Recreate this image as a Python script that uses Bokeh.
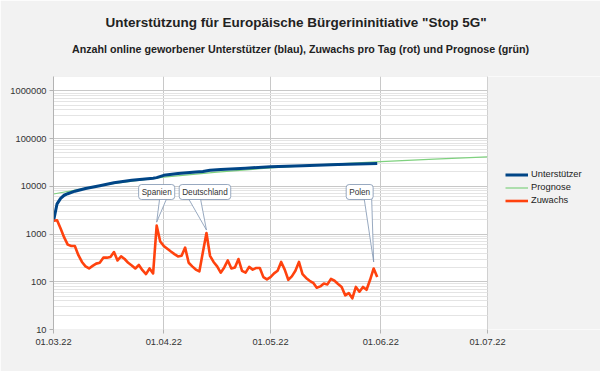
import math
import pandas as pd
from bokeh.plotting import figure
from bokeh.models import (Range1d, FixedTicker, NumeralTickFormatter, DatetimeTickFormatter,
                          Legend, LegendItem, Label, Title, BoxAnnotation)
from bokeh.embed import file_html
from bokeh.resources import INLINE

# ---------------- data ----------------
unterstuetzer_dates = ["2022-03-01", "2022-03-02", "2022-03-03", "2022-03-04", "2022-03-05",
                       "2022-03-07", "2022-03-10", "2022-03-14", "2022-03-18", "2022-03-23",
                       "2022-03-29", "2022-03-30", "2022-04-01", "2022-04-05", "2022-04-10",
                       "2022-04-12", "2022-04-14", "2022-04-17", "2022-04-24", "2022-05-01",
                       "2022-05-10", "2022-05-20", "2022-05-31"]
unterstuetzer = [1850, 4300, 5600, 6500, 7000,
                 7900, 9000, 10300, 11900, 13400,
                 14800, 15200, 17000, 18600, 19900,
                 20500, 21800, 22600, 24000, 25700,
                 27000, 28500, 30000]

prognose_dates = ["2022-03-01", "2022-03-16", "2022-04-01", "2022-04-16", "2022-05-01",
                  "2022-05-16", "2022-06-01", "2022-06-16", "2022-07-01"]
prognose = [6900, 11000, 15600, 19900, 24200, 28500, 33000, 37200, 41500]

zuwachs_start = "2022-03-01"
zuwachs = [1900, 1950, 1300, 850, 600, 560, 560, 360, 260, 210,
           190, 215, 240, 250, 320, 320, 330, 420, 280, 340,
           300, 250, 220, 190, 225, 175, 145, 190, 150, 1500,
           700, 560, 490, 430, 380, 340, 350, 520, 250, 210,
           180, 165, 420, 1050, 350, 260, 210, 155, 200, 280,
           190, 200, 300, 170, 155, 205, 180, 195, 195, 125,
           112, 125, 150, 170, 260, 180, 110, 130, 170, 260,
           145, 120, 105, 95, 75, 80, 92, 88, 115, 105,
           90, 78, 52, 58, 45, 78, 62, 78, 68, 110,
           190, 126]

x_tick_dates = ["2022-03-01", "2022-04-01", "2022-05-01", "2022-06-01", "2022-07-01"]
y_ticks = [10, 100, 1000, 10000, 100000, 1000000]

callout_names = ["Spanien", "Deutschland", "Polen"]
callout_dates = ["2022-03-30", "2022-04-13", "2022-05-30"]

title_text = "Unterstützung für Europäische Bürgerininitiative \"Stop 5G\""
subtitle_text = "Anzahl online geworbener Unterstützer (blau), Zuwachs pro Tag (rot) und Prognose (grün)"

# ---------------- layout constants ----------------
W, H = 600, 371
BL, BT, BB = 53, 76, 42
PLOT_W = 434                 # width of the white plot area
FW, FH = W - BL, H - BT - BB  # frame reaches the right edge (legend lives there)
Y0, Y1 = 10, 2e6
FONT = "Liberation Sans"
TXT = "#333333"
GRID = "#c8c8c8"
PAGE = "#f2f2f2"


def ms(d):
    return pd.Timestamp(d).value / 1e6


t0, t1 = ms(x_tick_dates[0]), ms(x_tick_dates[-1])
ms_per_px = (t1 - t0) / PLOT_W
x_end = t0 + FW * ms_per_px

p = figure(width=W, height=H, x_axis_type="datetime", y_axis_type="log",
           x_range=Range1d(t0, x_end), y_range=Range1d(Y0, Y1),
           output_backend="svg", toolbar_location=None, title=None,
           min_border_left=BL, min_border_right=0, min_border_top=BT, min_border_bottom=BB)
p.border_fill_color = PAGE
p.background_fill_color = "white"
p.outline_line_color = None

# axes
minor = [k * 10 ** e for e in range(1, 7) for k in range(2, 10)]
p.yaxis.ticker = FixedTicker(ticks=y_ticks, minor_ticks=minor)
p.yaxis.formatter = NumeralTickFormatter(format="0")
p.xaxis.ticker = FixedTicker(ticks=[ms(d) for d in x_tick_dates])
fmt = "%d.%m.%y"
p.xaxis.formatter = DatetimeTickFormatter(microseconds=fmt, milliseconds=fmt, seconds=fmt,
                                          minsec=fmt, minutes=fmt, hourmin=fmt, hours=fmt,
                                          days=fmt, months=fmt, years=fmt)
for ax in (p.xaxis, p.yaxis):
    ax.axis_line_color = "#b3b3b3"
    ax.major_tick_line_color = "#b3b3b3"
    ax.major_tick_out = 4
    ax.major_tick_in = 0
    ax.minor_tick_out = 0
    ax.minor_tick_in = 0
    ax.major_label_text_font = FONT
    ax.major_label_text_font_size = "9.3px"
    ax.major_label_text_color = TXT
p.xaxis.axis_line_color = None
p.yaxis.major_label_standoff = 3
p.xaxis.major_label_standoff = 5

p.ygrid.grid_line_color = GRID
p.ygrid.minor_grid_line_color = "#e4e4e4"
p.xgrid.grid_line_color = GRID

# series
ux = pd.to_datetime(unterstuetzer_dates)
px_ = pd.to_datetime(prognose_dates)
zx = pd.date_range(zuwachs_start, periods=len(zuwachs), freq="D")

r_prog = p.line(px_, prognose, line_color="#7fd17f", line_width=1.2)
r_unt = p.line(ux, unterstuetzer, line_color="#004586", line_width=3, line_join="round")

# callout pointers (drawn under the red line)
px_per_dec = FH / math.log10(Y1 / Y0)
base_val = 10 ** (1 + 131 / px_per_dec)
ptr = {"Spanien": (0, 3, 10, 3.5), "Deutschland": (-1.5, -18, -6, 3), "Polen": (-14, -9.5, -2, 6.5)}
zs = pd.Series(zuwachs, index=zx)
xs, ys = [], []
for name, d in zip(callout_names, callout_dates):
    bdx, d1, d2, up = ptr[name]
    tx = ms(d)
    tv = zs[pd.Timestamp(d)] * 10 ** (up / px_per_dec)
    xs.append([tx, tx + d1 * ms_per_px, tx + d2 * ms_per_px])
    ys.append([tv, base_val, base_val])
p.patches(xs, ys, fill_color="white", line_color="#7d93b0", line_width=0.8)

r_zuw = p.line(zx, zuwachs, line_color="#ff420e", line_width=2.6, line_join="round")

# grey page area right of the plot area, then the plot-area border
p.add_layout(BoxAnnotation(left=t1, fill_color=PAGE, fill_alpha=1, line_color=None))
p.add_layout(BoxAnnotation(left=t0, right=t1, bottom=Y0, top=Y1, fill_alpha=0,
                           line_color="#b3b3b3", line_width=1))

for name, d in zip(callout_names, callout_dates):
    bdx = ptr[name][0]
    p.add_layout(Label(x=ms(d), y=137.5, x_units="data", y_units="screen", x_offset=bdx,
                       text=name, text_align="center", text_baseline="middle",
                       text_font=FONT, text_font_size="8.2px", text_color=TXT,
                       background_fill_color="white", border_line_color="#7d93b0",
                       border_line_width=0.8, border_radius=3, padding=3))

legend = Legend(items=[LegendItem(label="Unterstützer", renderers=[r_unt]),
                       LegendItem(label="Prognose", renderers=[r_prog]),
                       LegendItem(label="Zuwachs", renderers=[r_zuw])],
                location=(452, 122.5), orientation="vertical",
                background_fill_alpha=0, border_line_alpha=0, padding=0, margin=0,
                spacing=0, glyph_width=23, glyph_height=13, label_height=13,
                label_standoff=3, label_text_font=FONT, label_text_font_size="9.3px",
                label_text_color="#222222")
p.add_layout(legend)

# titles (stacked outward from the frame)
p.add_layout(Title(text=" ", text_font_size="18px", standoff=0), "above")
p.add_layout(Title(text=subtitle_text, align="left", offset=18.5, standoff=0,
                   text_font=FONT, text_font_style="bold", text_font_size="10.7px",
                   text_color="#222222"), "above")
p.add_layout(Title(text=" ", text_font_size="8px", standoff=0), "above")
p.add_layout(Title(text=title_text, align="left", offset=52, standoff=0,
                   text_font=FONT, text_font_style="bold", text_font_size="13.5px",
                   text_color="#222222"), "above")

open("out.html", "w").write(file_html(p, INLINE))
